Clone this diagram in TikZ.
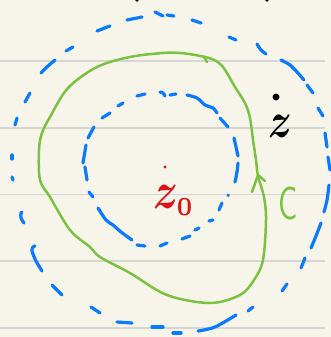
\documentclass[tikz,border=0pt]{standalone}
\usepackage{graphicx}
\definecolor{paper}{HTML}{F7F5EA}
\definecolor{rule}{HTML}{D6D6D4}
\definecolor{pblue}{HTML}{0A7AFF}
\definecolor{pgreen}{HTML}{7CC242}
\definecolor{pred}{HTML}{DD1111}
\tikzset{
  bd/.style={draw=pblue, line width=3.2pt, line cap=round, line join=round},
  gd/.style={draw=pgreen, line width=2.5pt, line cap=round, line join=round},
  rl/.style={draw=rule, line width=1.6pt},
}
\begin{document}
\begin{tikzpicture}[x=1pt,y=-1pt]
\useasboundingbox (0,0) rectangle (331,337);
\fill[paper] (0,0) rectangle (331,337);
\foreach \yy in {61,128,194.5,261,328}{\draw[rl] (0,\yy) -- (325,\yy);}
\begin{scope}
\clip (0,0) rectangle (331,337);
\fill (137,0) circle (1.8);
\fill (267,0) circle (1.8);
\end{scope}
% outer dashed circle
\draw[bd] (97,31)--(110,26);
\draw[bd] (127,20)--(142,17);
\draw[bd] (155,12)--(163,16);
\draw[bd] (167,15)--(174,16);
\draw[bd] (192,20)--(201,23);
\draw[bd] (229,37)--(236,40);
\draw[bd] plot[smooth] coordinates {(257,44)(261,50)(266,54)};
\draw[bd] plot[smooth] coordinates {(281,60)(290,65)(297,72)(304,80)};
\draw[bd] (307,85)--(313,93);
\draw[bd] (318,108)--(323,116);
\draw[bd] (325,133)--(327,147);
\draw[bd] (328,157)--(330,170);
\draw[bd] plot[smooth] coordinates {(329,185)(327,200)(324,212)};
\draw[bd] plot[smooth] coordinates {(321,223)(316,236)(311,248)};
\draw[bd] (305,258)--(301,268);
\draw[bd] (287,284)--(282,291);
\draw[bd] (253,307)--(248,311);
\draw[bd] plot[smooth] coordinates {(236,315)(215,327)(198,331)};
\draw[bd] (181,333)--(173,333);
\draw[bd] (163,327)--(152,327);
\draw[bd] (132,323)--(117,322);
\draw[bd] (100,313)--(91,307);
\draw[bd] (62,295)--(52,285);
\draw[bd] plot[smooth] coordinates {(42,271)(36,261)(32,251)(33,247)(35,246)};
\draw[bd] plot[smooth] coordinates {(24,223)(21,218)(21,213)(22,212)};
\draw[bd] (13,180)--(12,177);
\draw[bd] (12,159)--(12,155);
\draw[bd] (15,125)--(17,118);
\draw[bd] (25,102)--(30,93);
\draw[bd] plot[smooth] coordinates {(41,73)(48,66)(55,60)};
\draw[bd] (66,51)--(73,47);
% inner dashed circle
\draw[bd] (118,106)--(123,103);
\draw[bd] (102,118)--(110,113);
\draw[bd] (137,96)--(145,94);
\draw[bd] plot[smooth] coordinates {(160,92)(163,93)(165,96)};
\draw[bd] (170,95)--(176,94);
\draw[bd] plot[smooth] coordinates {(187,95)(197,98)(205,105)(213,108)(217,113)};
\draw[bd] (220,118)--(228,127);
\draw[bd] (234,138)--(238,156);
\draw[bd] plot[smooth] coordinates {(238,163)(237,172)(235,182)};
\draw[bd] (228,195)--(228.3,195.5);
\draw[bd] (222,203)--(219,210);
\draw[bd] (213,220)--(209,221);
\draw[bd] (199,228)--(195,230);
\draw[bd] (190,236)--(182,239);
\draw[bd] (167,243)--(160,246);
\draw[bd] (145,246)--(137,245);
\draw[bd] plot[smooth] coordinates {(132,240)(121,232)(113,225)(106,220)(98,208)};
\draw[bd] (93,197)--(89,192);
\draw[bd] (85,167)--(87,180);
\draw[bd] (86,145)--(83,163);
\draw[bd] (88,138)--(94,127);
% green contour C
\draw[gd] plot[smooth cycle, tension=0.55] coordinates {
 (258,176)(256,160)(253,140)(250,118)(245,103)(235,87)(223,67)(212,59)(195,55)(180,53)(163,53)
 (130,57)(97,67)(68,88)(50,117)(42,133)(39,150)(40,180)(50,197)(70,230)(90,247)(100,257)
 (130,273)(167,295)(210,303)(240,295)(254,280)(263,260)(266,220)(264,197)};
\draw[gd] (204,57)--(207,62);
\coordinate (tip) at (258,175);
\coordinate (armL) at (252,192);
\coordinate (armR) at (265,181);
\draw[gd] (armL) -- (tip) -- (armR);
% points and labels
\fill[pred] (165,167) circle (1.6);
\node[text=pred, inner sep=0pt, anchor=base west] (z0) at (153,208) {\scalebox{4.2}[5.2]{\boldmath$z_{\scriptscriptstyle 0}$}};
\fill (276,97) circle (3.5);
\node[inner sep=0pt, anchor=base west] (z) at (268,137) {\scalebox{4}[5]{\boldmath$z$}};
\node[text=pgreen, inner sep=0pt, anchor=center] (C) at (288,204) {\scalebox{3}[4.6]{\textsf{C}}};
\end{tikzpicture}
\end{document}
